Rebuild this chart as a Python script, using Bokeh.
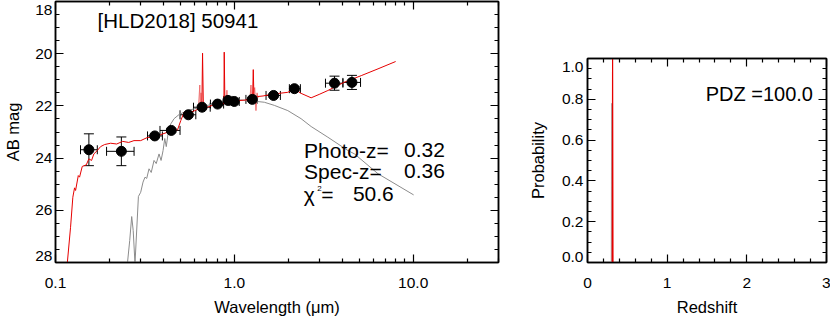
from bokeh.plotting import figure
from bokeh.models import (ColumnDataSource, Whisker, TeeHead, FixedTicker, PrintfTickFormatter,
                          LinearAxis, LogAxis, Label, Range1d)
from bokeh.embed import file_html
from bokeh.resources import INLINE

FONT = "Liberation Sans"

# ---------------- data: photometry ----------------
phot_wl = [0.1537, 0.2335, 0.359, 0.444, 0.553, 0.660, 0.806, 0.921, 0.999, 1.26, 1.657, 2.167, 3.631, 4.546]
phot_mag = [23.68, 23.74, 23.15, 22.94, 22.34, 22.05, 21.93, 21.79, 21.83, 21.75, 21.60, 21.34, 21.13, 21.10]
phot_magerr = [0.61, 0.55, 0.06, 0.06, 0.05, 0.05, 0.05, 0.05, 0.05, 0.06, 0.06, 0.08, 0.27, 0.27]
phot_wl_lo = [0.138, 0.193, 0.327, 0.384, 0.497, 0.591, 0.735, 0.871, 0.945, 1.161, 1.504, 2.031, 3.233, 4.047]
phot_wl_hi = [0.1713, 0.275, 0.396, 0.497, 0.609, 0.733, 0.871, 0.970, 1.065, 1.339, 1.809, 2.341, 4.047, 5.078]

# best-fit galaxy template (red)
gal_wl = [0.1163, 0.1214, 0.125, 0.1278, 0.1295, 0.1341, 0.1363, 0.1411, 0.1486, 0.1537, 0.1591,
          0.1639, 0.1713, 0.1787, 0.1883, 0.2034, 0.2198, 0.2375, 0.2566, 0.2747, 0.2995, 0.3266,
          0.3556, 0.3879, 0.4227, 0.4528, 0.4811, 0.502, 0.5239, 0.5424, 0.5711, 0.6014, 0.6358,
          0.6582, 0.6642, 0.6711, 0.7085, 0.7586, 0.7991, 0.8414, 0.8745, 0.8779, 0.8858, 0.9363,
          1.008, 1.089, 1.177, 1.264, 1.276, 1.288, 1.351, 1.447, 1.604, 1.778, 1.99, 2.167, 2.362,
          2.688, 2.98, 3.334, 4.13, 5.125, 6.36, 7.98]
gal_mag = [28.05, 26.65, 25.50, 25.14, 25.24, 24.67, 24.73, 24.32, 24.26, 24.03, 24.09,
           23.84, 23.71, 23.56, 23.48, 23.43, 23.46, 23.36, 23.40, 23.33, 23.33, 23.21,
           23.20, 23.10, 23.01, 22.94, 22.92, 22.56, 22.24, 22.29, 22.24, 22.18, 22.11,
           22.06, 19.98, 22.06, 22.05, 21.97, 21.95, 21.92, 21.91, 19.94, 21.91, 21.86,
           21.81, 21.79, 21.77, 21.77, 20.61, 21.75, 21.64, 21.62, 21.56, 21.52, 21.48, 21.35, 21.52,
           21.69, 21.56, 21.41, 21.09, 20.84, 20.58, 20.30]

# noisy emission-line wings of the template (light red)
wing_wl = [[0.630, 0.641, 0.645, 0.650, 0.655, 0.662],
           [0.900, 0.909, 0.915, 0.921, 0.930],
           [1.220, 1.239, 1.250, 1.300, 1.321, 1.340, 1.357]]
wing_mag = [[22.10, 21.20, 22.10, 21.50, 22.10, 22.05],
            [21.90, 21.40, 21.95, 21.60, 21.88],
            [21.80, 21.20, 21.85, 21.30, 22.18, 21.50, 21.70]]

# second template (grey)
alt_wl = [0.2523, 0.26, 0.2667, 0.2719, 0.2783, 0.2908, 0.2995, 0.3086, 0.3166, 0.3236, 0.3334,
          0.343, 0.3556, 0.3658, 0.3793, 0.3893, 0.3995, 0.4083, 0.4163, 0.4299, 0.4411, 0.4603,
          0.4911, 0.5473, 0.7085, 0.9174, 1.089, 1.293, 1.471, 1.674, 1.99, 2.362, 2.688, 3.334,
          4.315, 4.699, 6.36, 10.06]
alt_mag = [28.05, 27.16, 26.24, 26.77, 28.04, 25.47, 25.31, 24.92, 24.73, 24.78, 24.41,
           24.55, 24.09, 24.21, 23.84, 24.09, 23.71, 23.25, 23.56, 22.87, 22.69, 22.49,
           22.33, 22.18, 21.98, 21.79, 21.77, 21.82, 21.86, 21.98, 22.18, 22.49, 22.79, 23.20,
           23.71, 23.84, 24.60, 25.41]

# ---------------- data: redshift PDF ----------------
pdz_z = [0.0, 0.305, 0.31, 0.315, 0.32, 0.325, 3.0]
pdz_p = [0.0, 0.0, 0.0, 1.0, 0.0, 0.0, 0.0]
pdz2_z = [0.298, 0.303, 0.308]
pdz2_p = [0.0, 0.78, 0.0]

# ---------------- tick values & labels ----------------
x_major = [0.1, 1.0, 10.0]
x_minor = [0.2, 0.3, 0.4, 0.5, 0.6, 0.7, 0.8, 0.9, 2, 3, 4, 5, 6, 7, 8, 9, 20, 30]
y_major = [18, 20, 22, 24, 26, 28]
y_minor = [18.5, 19, 19.5, 20.5, 21, 21.5, 22.5, 23, 23.5, 24.5, 25, 25.5, 26.5, 27, 27.5]
# label anchor positions (edge labels sit inside the box, as in the original)
y_label_pos = [18.31, 20, 22, 24, 26, 27.77]
y_label_txt = ["18", "20", "22", "24", "26", "28"]

z_major = [0, 1, 2, 3]
z_minor = [0.2, 0.4, 0.6, 0.8, 1.2, 1.4, 1.6, 1.8, 2.2, 2.4, 2.6, 2.8]
p_major = [0.0, 0.2, 0.4, 0.6, 0.8, 1.0]
p_minor = [0.05, 0.1, 0.15, 0.25, 0.3, 0.35, 0.45, 0.5, 0.55, 0.65, 0.7, 0.75, 0.85, 0.9, 0.95]
p_label_pos = [0.025, 0.2, 0.4, 0.6, 0.8, 0.956]
p_label_txt = ["0.0", "0.2", "0.4", "0.6", "0.8", "1.0"]

title_text = "[HLD2018] 50941"
photo_z = "0.32"
spec_z = "0.36"
chi2 = "50.6"
pdz_text = "PDZ =100.0"

TICK_SIZE = "15.5px"


def style_ticks(ax):
    ax.major_tick_in = 8
    ax.major_tick_out = 0
    ax.minor_tick_in = 4
    ax.minor_tick_out = 0
    ax.axis_line_width = 1.5
    ax.major_tick_line_width = 1.2
    ax.minor_tick_line_width = 1.2
    ax.axis_line_color = "black"
    ax.major_tick_line_color = "black"
    ax.minor_tick_line_color = "black"


def hide_labels(ax):
    ax.major_label_text_font_size = "1px"
    ax.major_label_text_color = None
    ax.major_label_standoff = 0


def style_labels(ax):
    ax.major_label_text_font = FONT
    ax.major_label_text_font_size = TICK_SIZE
    ax.major_label_text_color = "black"
    ax.axis_label_text_font = FONT
    ax.axis_label_text_font_size = "16.5px"
    ax.axis_label_text_font_style = "normal"
    ax.axis_label_text_color = "black"


def label_only_axis(pos, txt, title):
    ax = LinearAxis(ticker=FixedTicker(ticks=pos, minor_ticks=[]),
                    major_label_overrides={v: t for v, t in zip(pos, txt)},
                    axis_label=title)
    ax.axis_line_color = None
    ax.major_tick_line_color = None
    ax.minor_tick_line_color = None
    ax.major_tick_in = 0
    ax.major_tick_out = 0
    style_labels(ax)
    return ax


def lab(p, x, y, text, size="21px", align="left"):
    p.add_layout(Label(x=x, y=y, text=text, text_font=FONT, text_font_size=size,
                       text_color="black", text_align=align, text_baseline="middle"))


# ---------------- left panel ----------------
p1 = figure(x_axis_type="log", x_range=Range1d(0.1, 30), y_range=Range1d(28, 18),
            width=510, height=322, min_border_left=55, min_border_right=12,
            min_border_top=1, min_border_bottom=60, output_backend="svg", toolbar_location=None)
p1.styles = {"position": "absolute", "left": "0px", "top": "0px"}
p1.grid.visible = False
p1.outline_line_color = "black"
p1.outline_line_width = 1.5

p1.xaxis.ticker = FixedTicker(ticks=x_major, minor_ticks=x_minor)
p1.xaxis.formatter = PrintfTickFormatter(format="%.1f")
p1.xaxis.axis_label = "Wavelength (\u03bcm)"
style_ticks(p1.xaxis[0])
style_labels(p1.xaxis[0])
p1.xaxis.major_label_standoff = 15
p1.xaxis.axis_label_standoff = 7

p1.yaxis.ticker = FixedTicker(ticks=y_major, minor_ticks=y_minor)
style_ticks(p1.yaxis[0])
hide_labels(p1.yaxis[0])
ylab1 = label_only_axis(y_label_pos, y_label_txt, "AB mag")
ylab1.major_label_standoff = 3
ylab1.axis_label_standoff = 10
p1.add_layout(ylab1, "left")

top1 = LogAxis(ticker=FixedTicker(ticks=x_major, minor_ticks=x_minor))
style_ticks(top1)
hide_labels(top1)
p1.add_layout(top1, "above")
right1 = LinearAxis(ticker=FixedTicker(ticks=y_major, minor_ticks=y_minor))
style_ticks(right1)
hide_labels(right1)
p1.add_layout(right1, "right")

p1.line(alt_wl, alt_mag, line_color="#8c8c8c", line_width=1)
p1.multi_line(wing_wl, wing_mag, line_color="#f07070", line_width=1)
p1.line(gal_wl, gal_mag, line_color="#e60000", line_width=1)

src = ColumnDataSource(dict(
    wl=phot_wl, mag=phot_mag, wl_lo=phot_wl_lo, wl_hi=phot_wl_hi,
    mag_lo=[m - e for m, e in zip(phot_mag, phot_magerr)],
    mag_hi=[m + e for m, e in zip(phot_mag, phot_magerr)]))
wy = Whisker(source=src, base="wl", lower="mag_lo", upper="mag_hi", dimension="height",
             line_color="black", line_width=1,
             upper_head=TeeHead(size=10, line_color="black", line_width=1),
             lower_head=TeeHead(size=10, line_color="black", line_width=1))
wx = Whisker(source=src, base="mag", lower="wl_lo", upper="wl_hi", dimension="width",
             line_color="black", line_width=1,
             upper_head=TeeHead(size=9, line_color="black", line_width=1),
             lower_head=TeeHead(size=9, line_color="black", line_width=1))
p1.add_layout(wy)
p1.add_layout(wx)
p1.scatter("wl", "mag", source=src, size=10, color="black")

lab(p1, 0.172, 18.73, title_text, size="20.5px")
lab(p1, 2.455, 23.70, "Photo-z=")
lab(p1, 8.89, 23.70, photo_z)
lab(p1, 2.455, 24.50, "Spec-z=")
lab(p1, 8.89, 24.50, spec_z)
lab(p1, 2.444, 25.39, "\u03c7")
lab(p1, 2.904, 25.17, "2", size="8px")
lab(p1, 3.06, 25.39, "=")
lab(p1, 4.603, 25.39, chi2)

# ---------------- right panel ----------------
p2 = figure(x_range=Range1d(0, 3), y_range=Range1d(0, 1),
            width=320, height=322, min_border_left=77, min_border_right=4,
            min_border_top=58, min_border_bottom=60, output_backend="svg", toolbar_location=None)
p2.styles = {"position": "absolute", "left": "510px", "top": "0px"}
p2.grid.visible = False
p2.outline_line_color = "black"
p2.outline_line_width = 1.5

p2.xaxis.ticker = FixedTicker(ticks=z_major, minor_ticks=z_minor)
p2.xaxis.axis_label = "Redshift"
style_ticks(p2.xaxis[0])
style_labels(p2.xaxis[0])
p2.xaxis.major_label_standoff = 15
p2.xaxis.axis_label_standoff = 7

p2.yaxis.ticker = FixedTicker(ticks=p_major, minor_ticks=p_minor)
style_ticks(p2.yaxis[0])
hide_labels(p2.yaxis[0])
ylab2 = label_only_axis(p_label_pos, p_label_txt, "Probability")
ylab2.major_label_standoff = 4
ylab2.axis_label_standoff = 12
p2.add_layout(ylab2, "left")

top2 = LinearAxis(ticker=FixedTicker(ticks=z_major, minor_ticks=z_minor))
style_ticks(top2)
hide_labels(top2)
p2.add_layout(top2, "above")
right2 = LinearAxis(ticker=FixedTicker(ticks=p_major, minor_ticks=p_minor))
style_ticks(right2)
hide_labels(right2)
p2.add_layout(right2, "right")

p2.line(pdz2_z, pdz2_p, line_color="#aaaaaa", line_width=1)
p2.line(pdz_z, pdz_p, line_color="#e60000", line_width=1.2)
lab(p2, 2.83, 0.827, pdz_text, size="20px", align="right")

open("out.html", "w").write(file_html([p1, p2], INLINE))
